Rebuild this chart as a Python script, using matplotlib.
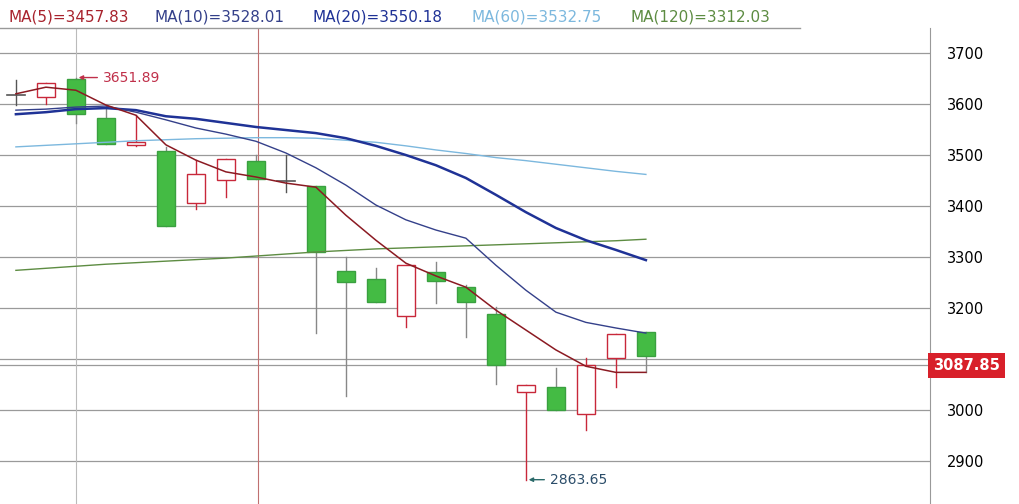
import matplotlib
matplotlib.use("Agg")
import matplotlib.pyplot as plt
from matplotlib.patches import Rectangle

opens  = [3618, 3614, 3649, 3572, 3520, 3508, 3406, 3451, 3488, 3449, 3439, 3273, 3257, 3184, 3271, 3241, 3188, 3035, 3045, 2992, 3102, 3153]
closes = [3618, 3641, 3580, 3522, 3525, 3361, 3463, 3492, 3453, 3449, 3310, 3251, 3212, 3284, 3253, 3212, 3088, 3049, 3000, 3088, 3149, 3106]
highs  = [3647, 3641, 3651.89, 3596, 3578, 3516, 3490, 3492, 3500, 3500, 3439, 3300, 3278, 3284, 3290, 3245, 3202, 3049, 3082, 3102, 3149, 3153]
lows   = [3598, 3600, 3563, 3522, 3518, 3361, 3394, 3418, 3453, 3427, 3151, 3027, 3212, 3163, 3210, 3143, 3051, 2863.65, 3000, 2961, 3045, 3074]
ma5   = [3620, 3633, 3627, 3598, 3578, 3520, 3490, 3467, 3457, 3445, 3437, 3382, 3333, 3288, 3263, 3241, 3196, 3157, 3118, 3086, 3074, 3074]
ma10  = [3588, 3590, 3594, 3596, 3584, 3569, 3553, 3541, 3527, 3504, 3475, 3441, 3402, 3373, 3353, 3337, 3284, 3235, 3192, 3172, 3161, 3151]
ma20  = [3580, 3584, 3590, 3592, 3588, 3576, 3571, 3563, 3555, 3549, 3543, 3533, 3518, 3500, 3480, 3455, 3422, 3388, 3357, 3333, 3314, 3294]
ma60  = [3516, 3519, 3522, 3525, 3528, 3530, 3532, 3533, 3534, 3534, 3533, 3529, 3525, 3518, 3510, 3503, 3495, 3489, 3482, 3475, 3468, 3462]
ma120 = [3274, 3278, 3282, 3286, 3289, 3292, 3295, 3298, 3302, 3306, 3310, 3313, 3316, 3318, 3320, 3322, 3324, 3326, 3328, 3330, 3332, 3335]
yticks = [2900, 3000, 3100, 3200, 3300, 3400, 3500, 3600, 3700]
ytick_labels = ["2900", "3000", "", "3200", "3300", "3400", "3500", "3600", "3700"]
last_price = 3087.85
header = [("MA(5)=3457.83", "#a8232d"), ("MA(10)=3528.01", "#34408a"), ("MA(20)=3550.18", "#1f3296"),
          ("MA(60)=3532.75", "#7cb8de"), ("MA(120)=3312.03", "#5d8c42")]

fig = plt.figure(figsize=(10.2, 5.04), dpi=100)
ax = fig.add_axes([0, 0, 930/1020, 476/504])
ax.set_xlim(-0.53, 30.47)
ax.set_ylim(2816, 3749)
for t in yticks:
    ax.axhline(t, color="#9a9a9a", lw=0.9, zorder=0)
ax.axhline(last_price, color="#9a9a9a", lw=0.9, zorder=0)
ax.axvline(2, color="#bbbbbb", lw=0.8, zorder=0)
ax.axvline(8.07, color="#c07070", lw=0.8, zorder=0)

n = len(opens)
w = 0.6
for i in range(n):
    o, c, h, l = opens[i], closes[i], highs[i], lows[i]
    up = c > o
    if c == o:
        ax.plot([i, i], [l, h], color="#555555", lw=1)
        ax.plot([i - w/2, i + w/2], [o, o], color="#555555", lw=1.2)
        continue
    col = "#c8283a" if up else "#3cb043"
    ax.plot([i, i], [l, h], color=col if up else "#888888", lw=1, zorder=2)
    lo, hi = min(o, c), max(o, c)
    ax.add_patch(Rectangle((i - w/2, lo), w, max(hi - lo, 3), facecolor="white" if up else "#44bb44",
                           edgecolor=col if up else "#3aa040", lw=1, zorder=3))

x = list(range(n))
ax.plot(x, ma120, color="#5d8c42", lw=1, zorder=4)
ax.plot(x, ma60, color="#7cb8de", lw=1, zorder=4)
ax.plot(x, ma20, color="#1f3296", lw=1.8, zorder=4)
ax.plot(x, ma10, color="#34408a", lw=1, zorder=4)
ax.plot(x, ma5, color="#8b1a22", lw=1.1, zorder=5)

ax.annotate("3651.89", xy=(2, 3651.89), xytext=(2.9, 3651.89), color="#c0304a", fontsize=10, va="center",
            arrowprops=dict(arrowstyle="-|>", color="#c0304a", lw=1, mutation_scale=6))
ax.annotate("2863.65", xy=(17, 2863.65), xytext=(17.8, 2863.65), color="#2b4d6a", fontsize=10, va="center",
            arrowprops=dict(arrowstyle="-|>", color="#2b6a6a", lw=1, mutation_scale=6))

ax.yaxis.tick_right()
ax.set_yticks(yticks)
ax.set_yticklabels(ytick_labels, fontsize=10.5)
ax.tick_params(axis="y", length=0, pad=12)
ax.set_xticks([])
for s in ["left", "bottom", "top"]:
    ax.spines[s].set_visible(False)
ax.spines["right"].set_color("#999999")
ax.plot([0, 800/930], [1, 1], transform=ax.transAxes, color="#999999", lw=1, clip_on=False)
ax.text(1.0 + 3/930, last_price, "3087.85", transform=ax.get_yaxis_transform(), fontsize=10.5, color="white",
        fontweight="bold", va="center", ha="left",
        bbox=dict(boxstyle="square,pad=0.35", facecolor="#d8202a", edgecolor="none"))

xs = [8, 155, 313, 472, 631]
for (t, c), px in zip(header, xs):
    fig.text(px/1020, 1 - 17/504, t, color=c, fontsize=11, va="center", ha="left")

fig.savefig("out.png", dpi=100)
